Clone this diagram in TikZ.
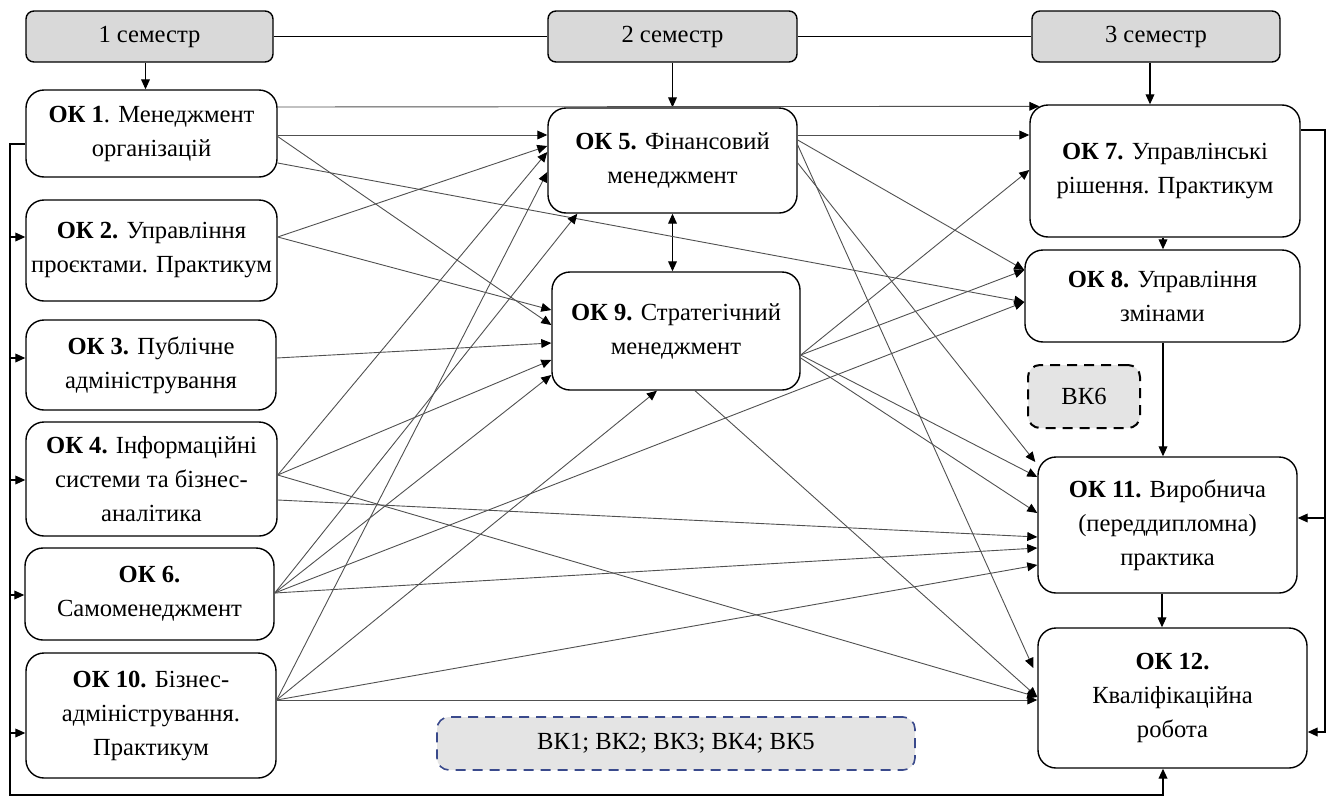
\documentclass[tikz,border=0pt]{standalone}
\usepackage{fontspec}
\setmainfont{Liberation Serif}
\newfontfamily\tnr{Liberation Serif}
\usetikzlibrary{arrows.meta,calc}
\definecolor{hdrgray}{HTML}{D9D9D9}
\definecolor{vkgray}{HTML}{E4E4E4}
\definecolor{vkblue}{HTML}{3A4A8C}
\definecolor{linegray}{HTML}{505050}
\begin{document}
\begin{tikzpicture}[x=0.5pt,y=-0.5pt,
  box/.style={draw, line width=0.7pt, rounded corners=9pt, align=center,
    font=\tnr\fontsize{12.3}{17}\selectfont, inner sep=0pt, fill=white},
  hdr/.style={draw, line width=0.7pt, rounded corners=4pt, fill=hdrgray,
    font=\tnr\fontsize{12.3}{14}\selectfont, inner sep=0pt, minimum height=25.5pt},
  vk/.style={draw, line width=0.8pt, rounded corners=6pt, dash pattern=on 5pt off 3.5pt,
    font=\tnr\fontsize{12.3}{14}\selectfont, inner sep=0pt, fill=vkgray},
  tip/.style={-{Triangle[length=5pt,width=4.4pt,color=black]}},
  conn/.style={draw=linegray, line width=0.45pt, tip},
  blk/.style={draw=black, line width=0.6pt},
  blkarr/.style={draw=black, line width=0.55pt, tip}
]
\useasboundingbox (0,0) rectangle (1335,798);

% headers
\node[hdr, minimum width=123.5pt] (h1) at (149.5,36.5) {1 семестр};
\node[hdr, minimum width=124.5pt] (h2) at (672.5,36.5) {2 семестр};
\node[hdr, minimum width=124pt] (h3) at (1156,36.5) {3 семестр};

% left column
\node[box, minimum width=125.5pt, minimum height=43.5pt] (ok1) at (151.5,133.5) {\textbf{ОК 1}. Менеджмент\\організацій};
\node[box, minimum width=125.5pt, minimum height=50.5pt] (ok2) at (151.5,250.5) {\textbf{ОК 2.} Управління\\проєктами. Практикум};
\node[box, minimum width=125pt, minimum height=45pt] (ok3) at (151,365) {\textbf{ОК 3.} Публічне\\адміністрування};
\node[box, minimum width=125.5pt, minimum height=57pt] (ok4) at (151.5,479) {\textbf{ОК 4.} Інформаційні\\системи та бізнес-\\аналітика};
\node[box, minimum width=124.5pt, minimum height=46pt] (ok6) at (149.5,594) {\textbf{ОК 6.}\\Самоменеджмент};
\node[box, minimum width=125pt, minimum height=62.5pt] (ok10) at (151,715.5) {\textbf{ОК 10.} Бізнес-\\адміністрування.\\Практикум};

% middle column
\node[box, minimum width=124.5pt, minimum height=52.5pt] (ok5) at (672.5,160.5) {\textbf{ОК 5.} Фінансовий\\менеджмент};
\node[box, minimum width=124pt, minimum height=59pt] (ok9) at (676,331) {\textbf{ОК 9.} Стратегічний\\менеджмент};

% right column
\node[box, minimum width=135pt, minimum height=66pt] (ok7) at (1165,171) {\textbf{ОК 7.} Управлінські\\рішення. Практикум};
\node[box, minimum width=137.5pt, minimum height=46pt] (ok8) at (1162.5,296) {\textbf{ОК 8.} Управління\\змінами};
\node[box, minimum width=129.5pt, minimum height=68pt] (ok11) at (1167.5,525) {\textbf{ОК 11.} Виробнича\\(переддипломна)\\практика};
\node[box, minimum width=134.5pt, minimum height=70pt] (ok12) at (1172.5,698) {\textbf{ОК 12.}\\Кваліфікаційна\\робота};

% elective boxes
\node[vk, draw=black, line width=1pt, minimum width=56pt, minimum height=31.5pt] (vk6) at (1084,396.5) {ВК6};
\node[vk, draw=vkblue, minimum width=239pt, minimum height=26.5pt] (vk15) at (676,743.5) {ВК1; ВК2; ВК3; ВК4; ВК5};

% header links
\draw[blk] (h1.east) -- (h2.west);
\draw[blk] (h2.east) -- (h3.west);
\draw[blkarr] ([shift={(-4,0)}]h1.south) -- ([shift={(-4,0)}]h1.south |- ok1.north);
\draw[blkarr] (h2.south) -- (h2.south |- ok5.north);
\draw[blkarr] ([shift={(-6,0)}]h3.south) -- ([shift={(-6,0)}]h3.south |- ok7.north);

% vertical links
\draw[draw=black, line width=0.55pt, {Triangle[length=5pt,width=4.4pt]}-{Triangle[length=5pt,width=4.4pt]}] (ok5.south) -- (ok5.south |- ok9.north);
\draw[blkarr] ([shift={(-2,0)}]ok7.south) -- ([shift={(-2,0)}]ok7.south |- ok8.north);
\draw[blkarr] ([shift={(0.5,0)}]ok8.south) -- ([shift={(0.5,0)}]ok8.south |- ok11.north);
\draw[blkarr] ([shift={(-5.5,0)}]ok11.south) -- ([shift={(-5.5,0)}]ok11.south |- ok12.north);

% left feedback loop
\coordinate (lt) at (10,144);
\coordinate (lb) at (10,795);
\draw[blk, line width=0.7pt, tip] ([shift={(0,10.5)}]ok1.west) -- (lt) -- (lb) -| ([shift={(-9.5,0)}]ok12.south);
\path ([shift={(0,-13.5)}]ok2.west) coordinate (in2)
      ([shift={(0,-7)}]ok3.west) coordinate (in3)
      ([shift={(0,1)}]ok4.west) coordinate (in4)
      ([shift={(0,1)}]ok6.west) coordinate (in6)
      ([shift={(0,17.5)}]ok10.west) coordinate (in10);
\draw[blkarr] (lt |- in2) -- (in2);
\draw[blkarr] (lt |- in3) -- (in3);
\draw[blkarr] (lt |- in4) -- (in4);
\draw[blkarr] (lt |- in6) -- (in6);
\draw[blkarr] (lt |- in10) -- (in10);

% right feedback loop
\coordinate (rt) at (1325,130);
\coordinate (rb) at (1325,732);
\draw[blk, line width=0.7pt, tip] ([shift={(0,-41)}]ok7.east) -- (rt) -- (rb) -- (rb -| ok12.east);
\path ([shift={(0,-7)}]ok11.east) coordinate (in11);
\draw[blkarr] (rt |- in11) -- (in11);

% connectors
\draw[conn] ([shift={(0,-26.5)}]ok1.east) -- ([shift={(10,2)}]ok7.north west);
\draw[conn] ([shift={(0,1.5)}]ok1.east) -- ([shift={(0,-25.5)}]ok5.west);
\draw[conn] ([shift={(0,-25.5)}]ok5.east) -- ([shift={(0,-36)}]ok7.west);
\draw[conn] ([shift={(0,3)}]ok1.east) -- ([shift={(0,-6)}]ok9.west);
\draw[conn] ([shift={(0,29.5)}]ok1.east) -- ([shift={(0,6)}]ok8.west);
\draw[conn] ([shift={(0,-13.5)}]ok2.east) -- ([shift={(0,-14.5)}]ok5.west);
\draw[conn] ([shift={(0,-13.5)}]ok2.east) -- ([shift={(0,-21)}]ok9.west);
\draw[conn] ([shift={(0,-7)}]ok3.east) -- ([shift={(0,12)}]ok9.west);
\draw[conn] ([shift={(0,-4)}]ok4.east) -- ([shift={(0,-8.5)}]ok5.west);
\draw[conn] ([shift={(0,-4)}]ok4.east) -- ([shift={(0,29)}]ok9.west);
\draw[conn] ([shift={(0,21)}]ok4.east) -- ([shift={(0,12)}]ok11.west);
\draw[conn] ([shift={(0,-4)}]ok4.east) -- ([shift={(0,-1)}]ok12.west);
\draw[conn] ([shift={(0,-1)}]ok6.east) -- ([shift={(30,0)}]ok5.south west);
\draw[conn] ([shift={(0,-1)}]ok6.east) -- ([shift={(0,44)}]ok9.west);
\draw[conn] ([shift={(0,-1)}]ok6.east) -- ([shift={(0,6)}]ok8.west);
\draw[conn] ([shift={(0,-1)}]ok6.east) -- ([shift={(0,23)}]ok11.west);
\draw[conn] ([shift={(0,-15.5)}]ok10.east) -- ([shift={(0,11.5)}]ok5.west);
\draw[conn] ([shift={(0,-15.5)}]ok10.east) -- ([shift={(-19,0)}]ok9.south);
\draw[conn] ([shift={(0,-15.5)}]ok10.east) -- ([shift={(0,40)}]ok11.west);
\draw[conn] ([shift={(0,-15.5)}]ok10.east) -- ([shift={(0,2)}]ok12.west);
\draw[conn] ([shift={(0,-20.5)}]ok5.east) -- ([shift={(0,-26)}]ok8.west);
\draw[conn] ([shift={(0,2.5)}]ok5.east) -- ([shift={(-2,-63)}]ok11.west);
\draw[conn] ([shift={(0,-15.5)}]ok5.east) -- ([shift={(-4,-30)}]ok12.west);
\draw[conn] ([shift={(0,24)}]ok9.east) -- ([shift={(0,-1)}]ok7.west);
\draw[conn] ([shift={(0,24)}]ok9.east) -- ([shift={(0,-26)}]ok8.west);
\draw[conn] ([shift={(0,24)}]ok9.east) -- ([shift={(0,-48)}]ok11.west);
\draw[conn] ([shift={(0,27)}]ok9.east) -- ([shift={(0,-12)}]ok11.west);
\draw[conn] ([shift={(19,0)}]ok9.south) -- ([shift={(0,-1)}]ok12.west);
\end{tikzpicture}
\end{document}
